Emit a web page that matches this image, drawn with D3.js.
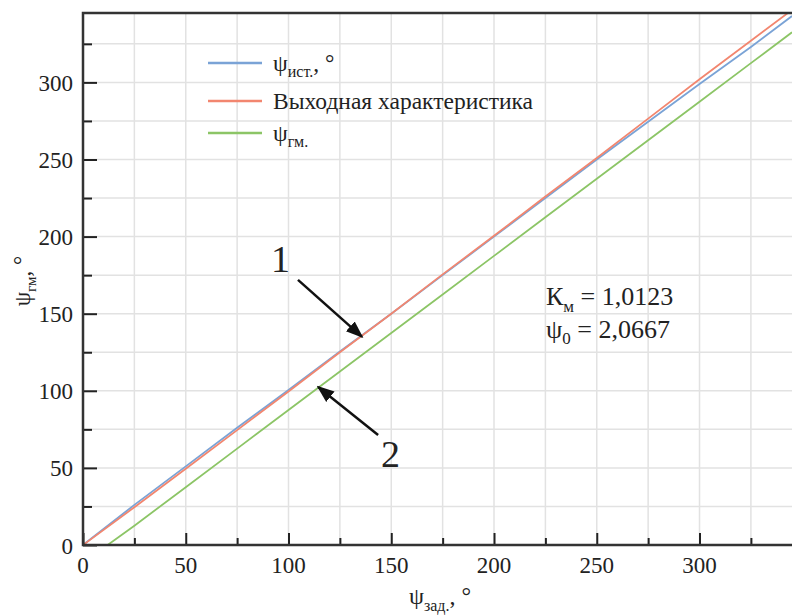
<!DOCTYPE html>
<html>
<head>
<meta charset="utf-8">
<script src="https://cdn.jsdelivr.net/npm/d3@7"></script>
<style>
  body { margin: 0; background: #fff; }
</style>
</head>
<body>
<div id="chart"></div>
<script>
// series: [psi_zad, psi]
var psiIst = [[0,0],[25,26],[50,51],[75,76],[100,100.5],[125,125.5],[150,150],[175,175],[200,200],[225,225],[250,250],[275,274.5],[300,299],[325,323],[345,343]];
var vyhodnaya = [[0,0],[25,24.5],[50,49.5],[75,74.5],[100,99.5],[125,125],[150,150],[175,175.5],[200,200.5],[225,226],[250,251],[275,276.5],[300,302],[325,327],[345,347]];
var psiGm = [[12,0],[25,12.5],[50,37.5],[75,62.5],[100,87.5],[125,112.5],[150,137.5],[175,162.5],[200,187.5],[225,212.5],[250,237.5],[275,262.5],[300,287.5],[325,312.5],[345,332.5]];

var majorTicks = [0, 50, 100, 150, 200, 250, 300];
var minorTicks = [25, 75, 125, 175, 225, 275, 325];

var seriesNames = ["ψист", "Выходная характеристика", "ψгм"];
var seriesColors = ["#7aa3d6", "#f2866f", "#8cc566"];

var FONT = "'Liberation Serif', 'DejaVu Serif', serif";

var width = 792, height = 616;
var margin = {top: 13, right: 0, bottom: 71, left: 83};

var svg = d3.select("#chart").append("svg")
    .attr("width", width)
    .attr("height", height)
    .attr("font-family", FONT);

var x = d3.scaleLinear().domain([0, 345]).range([margin.left, width - margin.right]);
var y = d3.scaleLinear().domain([0, 345]).range([height - margin.bottom, margin.top]);

svg.append("defs").append("clipPath").attr("id", "clip")
  .append("rect")
    .attr("x", margin.left).attr("y", margin.top)
    .attr("width", width - margin.left - margin.right)
    .attr("height", height - margin.top - margin.bottom);

// grid every 25
var grid = svg.append("g");
majorTicks.concat(minorTicks).forEach(function(t) {
  grid.append("line")
    .attr("x1", x(t)).attr("x2", x(t))
    .attr("y1", y(0)).attr("y2", y(345))
    .style("stroke", "#e2e2e2").style("stroke-width", 1.5);
  grid.append("line")
    .attr("x1", x(0)).attr("x2", x(345))
    .attr("y1", y(t)).attr("y2", y(t))
    .style("stroke", "#e2e2e2").style("stroke-width", 1.5);
});

var line = d3.line()
    .x(function(d) { return x(d[0]); })
    .y(function(d) { return y(d[1]); });

var lines = svg.append("g").attr("clip-path", "url(#clip)");
[psiIst, vyhodnaya, psiGm].forEach(function(s, i) {
  lines.append("path")
    .datum(s)
    .attr("d", line)
    .style("fill", "none")
    .style("stroke", seriesColors[i])
    .style("stroke-width", 1.8);
});

// axes, ticks pointing inward
var xAxis = svg.append("g").attr("transform", "translate(0," + y(0) + ")");
xAxis.call(d3.axisTop(x).tickValues(majorTicks).tickSize(12).tickFormat(""));
xAxis.append("g").call(d3.axisTop(x).tickValues(minorTicks).tickSize(7).tickFormat(""));
xAxis.selectAll(".domain").remove();
xAxis.selectAll("line").style("stroke", "#222").style("stroke-width", 2);

var yAxis = svg.append("g").attr("transform", "translate(" + x(0) + ",0)");
yAxis.call(d3.axisRight(y).tickValues(majorTicks).tickSize(14).tickFormat(""));
yAxis.append("g").call(d3.axisRight(y).tickValues(minorTicks).tickSize(9).tickFormat(""));
yAxis.selectAll(".domain").remove();
yAxis.selectAll("line").style("stroke", "#222").style("stroke-width", 2);

svg.selectAll(".xlab").data(majorTicks).enter().append("text")
  .attr("x", function(d) { return x(d); })
  .attr("y", y(0) + 28)
  .attr("text-anchor", "middle")
  .style("font-size", "23px").style("fill", "#222")
  .text(function(d) { return d; });

svg.selectAll(".ylab").data(majorTicks).enter().append("text")
  .attr("x", x(0) - 10)
  .attr("y", function(d) { return y(d) + 8.5; })
  .attr("text-anchor", "end")
  .style("font-size", "23px").style("fill", "#222")
  .text(function(d) { return d; });

// frame
svg.append("path")
  .attr("d", "M" + (width) + "," + y(345) + "H" + x(0) + "V" + y(0) + "H" + width)
  .style("fill", "none").style("stroke", "#333").style("stroke-width", 2.5);

// axis titles
var xt = svg.append("text")
  .attr("x", 440).attr("y", 604)
  .attr("text-anchor", "middle")
  .style("font-size", "24px").style("fill", "#222");
xt.append("tspan").text("ψ");
xt.append("tspan").attr("dy", 7).style("font-size", "16px").text("зад.");
xt.append("tspan").attr("dy", -7).text(", °");

var yt = svg.append("text")
  .attr("transform", "translate(30,281) rotate(-90)")
  .attr("text-anchor", "middle")
  .style("font-size", "23px").style("fill", "#222");
yt.append("tspan").text("ψ");
yt.append("tspan").attr("dy", 6).style("font-size", "15px").text("гм");
yt.append("tspan").attr("dy", -6).text(", °");

// legend
var legendY = [63, 101, 133];
var legend = svg.append("g");
seriesNames.forEach(function(name, i) {
  legend.append("line")
    .attr("x1", 208).attr("x2", 262)
    .attr("y1", legendY[i]).attr("y2", legendY[i])
    .style("stroke", seriesColors[i]).style("stroke-width", 2.5);
  var t = legend.append("text")
    .attr("x", 273).attr("y", legendY[i] + 8)
    .style("font-size", "23.5px").style("fill", "#222");
  if (i === 1) {
    t.text(name);
  } else {
    t.append("tspan").text(name.charAt(0));
    t.append("tspan").attr("dy", 6).style("font-size", "16px").text(name.slice(1) + ".");
    if (i === 0) t.append("tspan").attr("dy", -6).text(", °");
  }
});

// annotations
svg.append("defs").append("marker")
    .attr("id", "arrow")
    .attr("viewBox", "0 0 10 10")
    .attr("refX", 9).attr("refY", 5)
    .attr("markerWidth", 7).attr("markerHeight", 7)
    .attr("markerUnits", "strokeWidth")
    .attr("orient", "auto")
  .append("path")
    .attr("d", "M0,1.2 L10,5 L0,8.8 Z")
    .style("fill", "#111");

var arrows = [
  {from: [104.6, 171.9], to: [135.8, 135]},
  {from: [143.6, 71.3], to: [114.4, 102.5]}
];
arrows.forEach(function(a) {
  svg.append("line")
    .attr("x1", x(a.from[0])).attr("y1", y(a.from[1]))
    .attr("x2", x(a.to[0])).attr("y2", y(a.to[1]))
    .style("stroke", "#111").style("stroke-width", 2.5)
    .attr("marker-end", "url(#arrow)");
});

svg.append("text").attr("x", x(91.5)).attr("y", y(177)).style("font-size", "38px").style("fill", "#222").text("1");
svg.append("text").attr("x", x(145)).attr("y", y(50.5)).style("font-size", "38px").style("fill", "#222").text("2");

var k1 = svg.append("text").attr("x", 546).attr("y", 305).style("font-size", "26px").style("fill", "#222");
k1.append("tspan").text("К");
k1.append("tspan").attr("dy", 7).style("font-size", "17px").text("м");
k1.append("tspan").attr("dy", -7).text(" = 1,0123");
var k2 = svg.append("text").attr("x", 546).attr("y", 338).style("font-size", "26px").style("fill", "#222");
k2.append("tspan").text("ψ");
k2.append("tspan").attr("dy", 6).style("font-size", "17px").text("0");
k2.append("tspan").attr("dy", -6).text(" = 2,0667");
</script>
</body>
</html>
